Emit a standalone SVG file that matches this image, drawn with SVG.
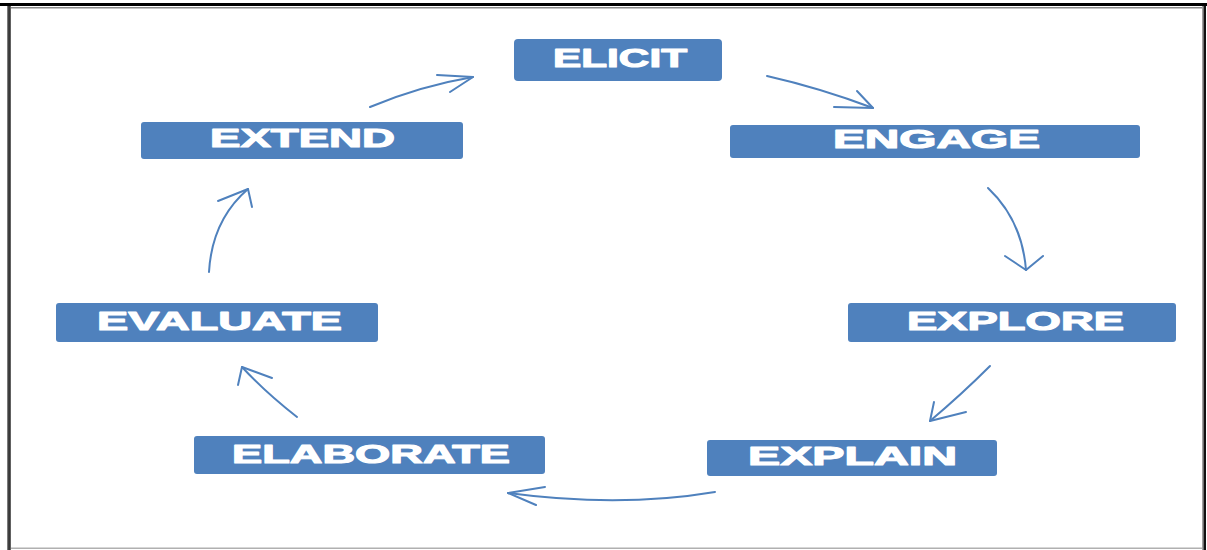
<svg xmlns="http://www.w3.org/2000/svg" width="1207" height="550" viewBox="0 0 1207 550">
  <defs>
    <style>
      .box { fill: #4F81BD; }
      .lbl { fill: #FFFFFF; stroke: #FFFFFF; stroke-width: 1.1; stroke-linejoin: round; font-family: "Liberation Sans", Arial, sans-serif; font-weight: bold; font-size: 26px; }
      .arrow { fill: none; stroke: #4F81BD; stroke-width: 2; stroke-linecap: round; stroke-linejoin: round; }
    </style>
    <linearGradient id="edgeL" x1="0" y1="0" x2="1" y2="0">
      <stop offset="0" stop-color="#9a9a9a"/>
      <stop offset="0.5" stop-color="#222"/>
      <stop offset="1" stop-color="#777"/>
    </linearGradient>
  </defs>

  <rect width="1207" height="550" fill="#FFFFFF"/>

  <!-- page frame -->
  <g id="frame">
    <rect x="0" y="3" width="1207" height="3" fill="#000"/>
    <rect x="7" y="6" width="4" height="544" fill="url(#edgeL)"/>
    <rect x="11" y="7" width="1192" height="1.5" fill="#8a8a8a"/>
    <rect x="1202" y="6" width="1.5" height="544" fill="#a0a0a0"/>
    <rect x="1203.5" y="6" width="2.5" height="544" fill="#111"/>
    <rect x="11" y="547.5" width="1191" height="1.5" fill="#b0b0b0"/>
  </g>

  <g id="node-elicit">
    <rect class="box" x="514" y="39" width="208" height="42" rx="4"/>
    <text class="lbl" x="553" y="67" textLength="134" lengthAdjust="spacingAndGlyphs">ELICIT</text>
  </g>
  <g id="node-engage">
    <rect class="box" x="730" y="125" width="410" height="33" rx="3"/>
    <text class="lbl" x="833" y="148" textLength="207" lengthAdjust="spacingAndGlyphs">ENGAGE</text>
  </g>
  <g id="node-explore">
    <rect class="box" x="848" y="303" width="328" height="39" rx="3"/>
    <text class="lbl" x="907" y="330" textLength="217" lengthAdjust="spacingAndGlyphs">EXPLORE</text>
  </g>
  <g id="node-explain">
    <rect class="box" x="707" y="440" width="290" height="36" rx="3"/>
    <text class="lbl" x="748" y="465" textLength="209" lengthAdjust="spacingAndGlyphs">EXPLAIN</text>
  </g>
  <g id="node-elaborate">
    <rect class="box" x="194" y="436" width="351" height="38" rx="3"/>
    <text class="lbl" x="232" y="463" textLength="278" lengthAdjust="spacingAndGlyphs">ELABORATE</text>
  </g>
  <g id="node-evaluate">
    <rect class="box" x="56" y="303" width="322" height="39" rx="3"/>
    <text class="lbl" x="97" y="330" textLength="245" lengthAdjust="spacingAndGlyphs">EVALUATE</text>
  </g>
  <g id="node-extend">
    <rect class="box" x="141" y="122" width="322" height="37" rx="3"/>
    <text class="lbl" x="210" y="147" textLength="185" lengthAdjust="spacingAndGlyphs">EXTEND</text>
  </g>

  <!-- hand-drawn cycle arrows -->
  <g id="connectors">
    <!-- ELICIT to ENGAGE -->
    <path class="arrow" d="M767,76 Q820,88 873,108"/>
    <path class="arrow" d="M857,91 L873,108 L834,107"/>
    <!-- ENGAGE to EXPLORE -->
    <path class="arrow" d="M988,188 Q1022,220 1026,270"/>
    <path class="arrow" d="M1005,256 L1026,270 L1043,256"/>
    <!-- EXPLORE to EXPLAIN -->
    <path class="arrow" d="M990,366 Q962,394 930,421"/>
    <path class="arrow" d="M934,402 L930,421 L966,412"/>
    <!-- EXPLAIN to ELABORATE -->
    <path class="arrow" d="M715,492 Q620,508 508,493"/>
    <path class="arrow" d="M545,487 L508,493 L536,505"/>
    <!-- ELABORATE to EVALUATE -->
    <path class="arrow" d="M297,417 Q266,393 242,367"/>
    <path class="arrow" d="M238,385 L242,367 L272,378"/>
    <!-- EVALUATE to EXTEND -->
    <path class="arrow" d="M209,272 Q212,220 248,189"/>
    <path class="arrow" d="M218,201 L248,189 L252,207"/>
    <!-- EXTEND to ELICIT -->
    <path class="arrow" d="M370,107 Q420,86 473,77"/>
    <path class="arrow" d="M437,75 L473,77 L450,92"/>
  </g>
</svg>
